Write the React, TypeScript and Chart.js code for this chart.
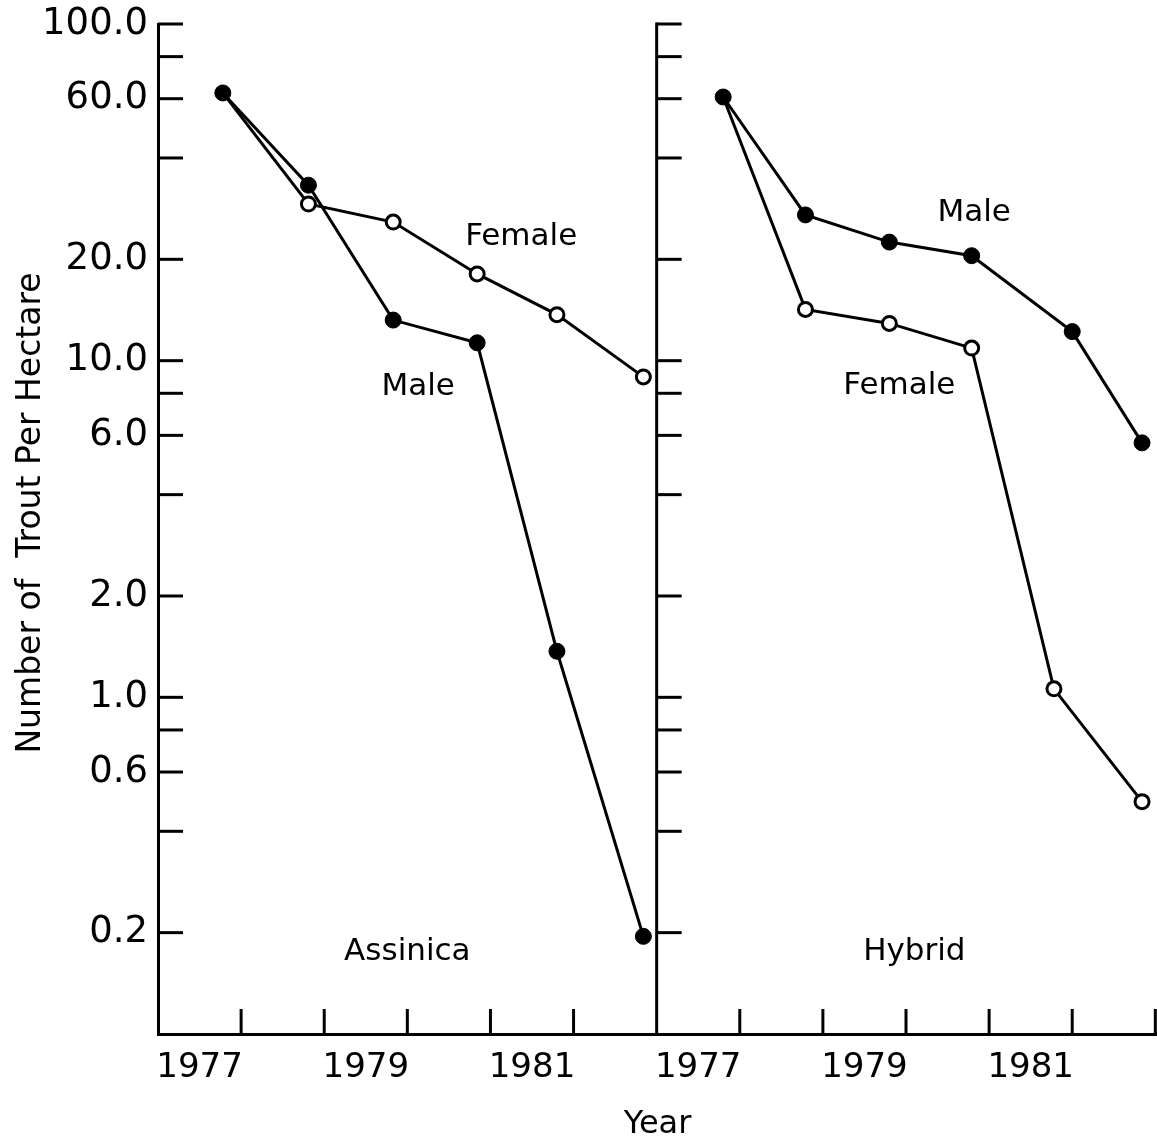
import React, { useEffect, useRef } from "react";
import { Chart, registerables } from "chart.js";

Chart.register(...registerables);

// ---------------- data ----------------
const assinicaYears = [1977.78, 1978.81, 1979.83, 1980.84, 1981.8, 1982.84];
const assinicaMale = [62.4, 33.2, 13.2, 11.3, 1.37, 0.195];
const assinicaFemale = [62.4, 29.2, 25.8, 18.1, 13.7, 8.95];

const hybridMaleYears = [1977.8, 1978.79, 1979.8, 1980.79, 1982.0, 1982.84];
const hybridFemaleYears = [1977.8, 1978.79, 1979.8, 1980.79, 1981.78, 1982.84];
const hybridMale = [60.7, 27.1, 22.5, 20.5, 12.2, 5.7];
const hybridFemale = [60.7, 14.2, 12.9, 10.9, 1.06, 0.49];

const yLabelValues = [0.2, 0.6, 1, 2, 6, 10, 20, 60, 100];
const yLabelTexts = ["0.2", "0.6", "1.0", "2.0", "6.0", "10.0", "20.0", "60.0", "100.0"];
const yMarkValues = [0.2, 0.4, 0.6, 0.8, 1, 2, 4, 6, 8, 10, 20, 40, 60, 80, 100];

const xLabelYears = [1977, 1979, 1981];
const xMarkYears = [1978, 1979, 1980, 1981, 1982, 1983];

const panelNames = ["Assinica", "Hybrid"];
const seriesNotes = [
  { text: "Female", panel: 0, x: 1981.37, y: 23.3 },
  { text: "Male", panel: 0, x: 1980.13, y: 8.35 },
  { text: "Male", panel: 1, x: 1980.82, y: 27.5 },
  { text: "Female", panel: 1, x: 1979.92, y: 8.41 },
];
const panelNameX = [1980.0, 1980.1];
const panelNameY = 0.175;

// ---------------- layout constants ----------------
const W = 1157;
const H = 1147;
const PANEL_SHIFT = 6; // years: right panel is drawn 6 years to the right
const X_MIN = 1977;
const X_MAX = 1989.02;
const DIVIDER = 1983;
const Y_MIN = 0.1;
const Y_MAX = 100;
const TICK = 25;
const FONT = "'DejaVu Sans', sans-serif";

const xTickValues: number[] = [];
const xTickTexts: string[] = [];
[0, PANEL_SHIFT].forEach((shift) => {
  xLabelYears.forEach((yr) => {
    xTickValues.push(yr + 0.5 + shift);
    xTickTexts.push(String(yr));
  });
});

const toPoints = (xs: number[], ys: number[], shift: number) =>
  xs.map((x, i) => ({ x: x + shift, y: ys[i] }));

const framePlugin = {
  id: "frame",
  afterDraw(chart: any) {
    const { ctx, chartArea, scales } = chart;
    const xs = scales.x;
    const ys = scales.y;
    ctx.save();
    ctx.strokeStyle = "#000";
    ctx.fillStyle = "#000";
    ctx.lineWidth = 3;
    ctx.lineCap = "butt";
    const line = (x1: number, y1: number, x2: number, y2: number) => {
      ctx.beginPath();
      ctx.moveTo(x1, y1);
      ctx.lineTo(x2, y2);
      ctx.stroke();
    };
    // panel divider
    const xd = xs.getPixelForValue(DIVIDER);
    line(xd, chartArea.top - 1.5, xd, chartArea.bottom + 1.5);
    // y tick marks (pointing inward) on both panels
    [X_MIN, DIVIDER].forEach((base) => {
      const px = xs.getPixelForValue(base);
      yMarkValues.forEach((v) => {
        const py = ys.getPixelForValue(v);
        line(px, py, px + TICK, py);
      });
    });
    // x tick marks (pointing upward)
    [0, PANEL_SHIFT].forEach((shift) => {
      xMarkYears.forEach((yr) => {
        if (shift === 0 && yr === DIVIDER) return;
        const px = xs.getPixelForValue(yr + shift);
        line(px, chartArea.bottom, px, chartArea.bottom - TICK);
      });
    });
    // series notes and panel names
    ctx.font = `31px ${FONT}`;
    ctx.textAlign = "center";
    ctx.textBaseline = "middle";
    seriesNotes.forEach((n) => {
      ctx.fillText(
        n.text,
        xs.getPixelForValue(n.x + n.panel * PANEL_SHIFT),
        ys.getPixelForValue(n.y)
      );
    });
    panelNames.forEach((name, i) => {
      ctx.fillText(
        name,
        xs.getPixelForValue(panelNameX[i] + i * PANEL_SHIFT),
        ys.getPixelForValue(panelNameY)
      );
    });
    // y axis title
    ctx.translate(40, 513);
    ctx.rotate(-Math.PI / 2);
    ctx.font = `33px ${FONT}`;
    ctx.textBaseline = "alphabetic";
    ctx.fillText("Number of  Trout Per Hectare", 0, 0);
    ctx.restore();
  },
};

export default function App() {
  const ref = useRef<HTMLCanvasElement | null>(null);

  useEffect(() => {
    if (!ref.current) return;
    Chart.defaults.font.family = FONT;
    Chart.defaults.color = "#000";

    const maleStyle = {
      borderColor: "#000",
      borderWidth: 3,
      pointRadius: 8,
      pointBackgroundColor: "#000",
      pointBorderColor: "#000",
      pointBorderWidth: 1,
      fill: false,
      tension: 0,
      clip: false as any,
    };
    const femaleStyle = {
      borderColor: "#000",
      borderWidth: 3,
      pointRadius: (c: any) => (c.dataIndex === 0 ? 0 : 7),
      pointBackgroundColor: "#fff",
      pointBorderColor: "#000",
      pointBorderWidth: 3,
      fill: false,
      tension: 0,
      clip: false as any,
    };

    const chart = new Chart(ref.current, {
      type: "line",
      data: {
        datasets: [
          { label: "Assinica male", data: toPoints(assinicaYears, assinicaMale, 0), ...maleStyle },
          { label: "Hybrid male", data: toPoints(hybridMaleYears, hybridMale, PANEL_SHIFT), ...maleStyle },
          { label: "Assinica female", data: toPoints(assinicaYears, assinicaFemale, 0), ...femaleStyle },
          { label: "Hybrid female", data: toPoints(hybridFemaleYears, hybridFemale, PANEL_SHIFT), ...femaleStyle },
        ] as any,
      },
      options: {
        animation: false,
        responsive: false,
        events: [],
        layout: { autoPadding: false, padding: { top: 24, left: 0, right: 0, bottom: 0 } },
        plugins: { legend: { display: false }, tooltip: { enabled: false } },
        scales: {
          x: {
            type: "linear",
            min: X_MIN,
            max: X_MAX,
            grid: { display: false, drawTicks: false },
            border: { display: true, color: "#000", width: 3 },
            ticks: {
              autoSkip: false,
              maxRotation: 0,
              padding: 14,
              font: { size: 34 },
              color: "#000",
              callback: (_v: any, i: number) => xTickTexts[i],
            },
            afterBuildTicks: (s: any) => {
              s.ticks = xTickValues.map((v) => ({ value: v }));
            },
            afterFit: (s: any) => {
              s.height = 113;
              s.paddingLeft = 0;
              s.paddingRight = 0;
            },
            title: {
              display: true,
              text: "Year",
              font: { size: 32 },
              color: "#000",
              padding: { top: 0, bottom: 3 },
            },
          },
          y: {
            type: "logarithmic",
            min: Y_MIN,
            max: Y_MAX,
            grid: { display: false, drawTicks: false },
            border: { display: true, color: "#000", width: 3 },
            ticks: {
              autoSkip: false,
              padding: 10,
              font: { size: 37 },
              color: "#000",
              callback: (_v: any, i: number) => yLabelTexts[i],
            },
            afterBuildTicks: (s: any) => {
              s.ticks = yLabelValues.map((v) => ({ value: v }));
            },
            afterFit: (s: any) => {
              s.width = 158;
              s.paddingTop = 0;
              s.paddingBottom = 0;
            },
          },
        },
      } as any,
      plugins: [framePlugin],
    });
    return () => chart.destroy();
  }, []);

  return (
    <div style={{ position: "absolute", left: 0, top: 0, width: W, height: H, background: "#fff" }}>
      <canvas ref={ref} width={W} height={H} style={{ display: "block" }} />
    </div>
  );
}
